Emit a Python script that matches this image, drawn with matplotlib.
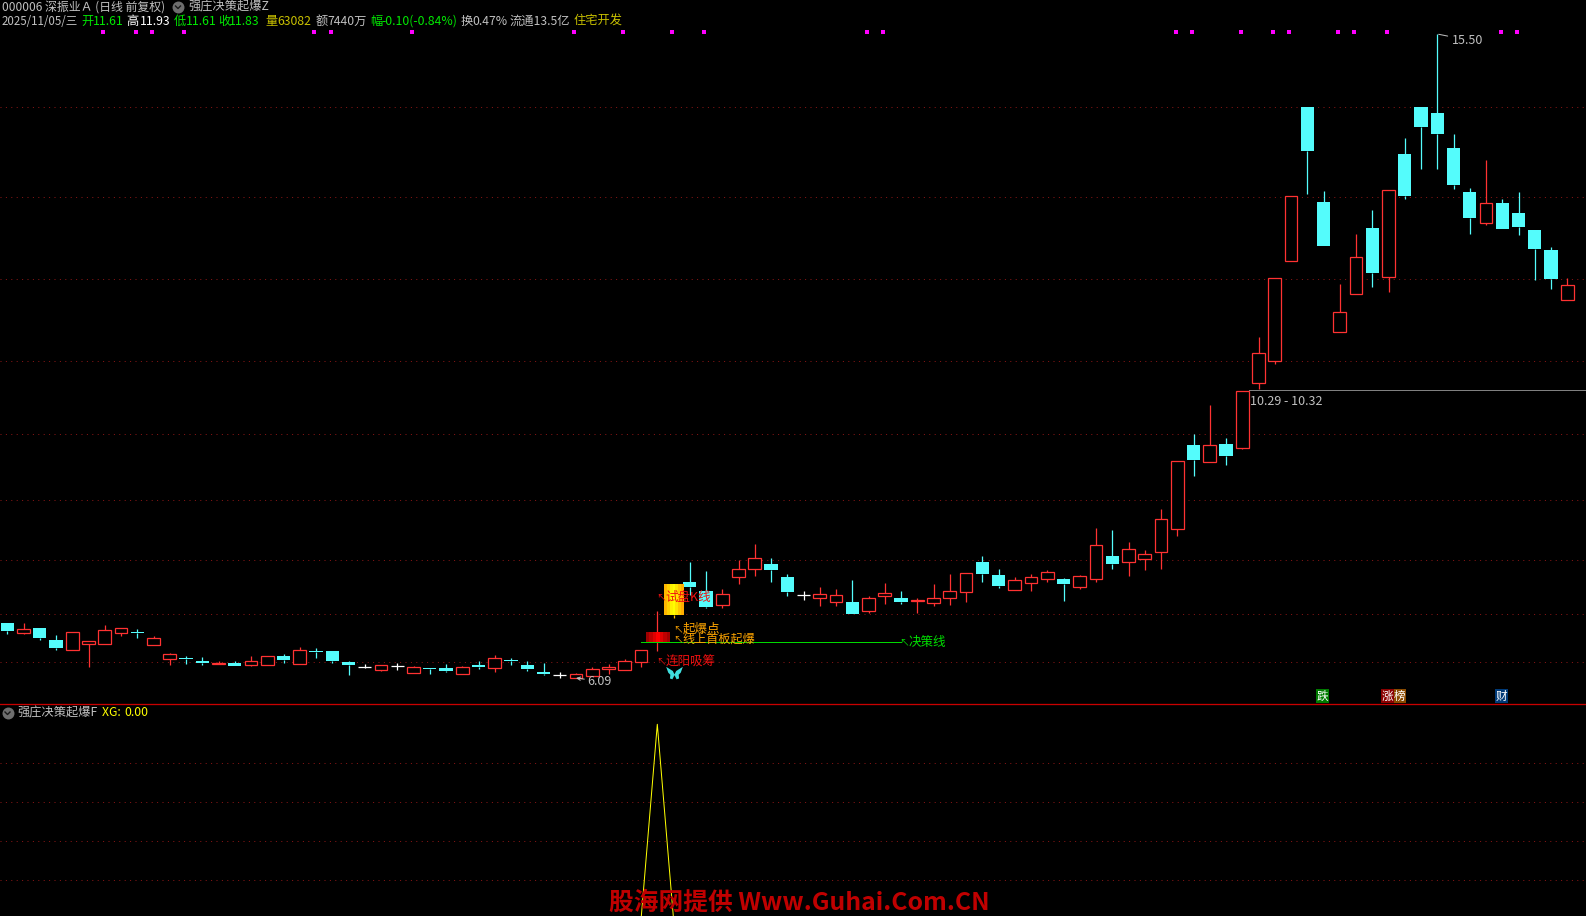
import numpy as np
import matplotlib
matplotlib.use('Agg')
import matplotlib.pyplot as plt

plt.rcParams['font.family'] = ['Noto Sans CJK SC', 'DejaVu Sans']

# дневные свечи
OPEN = [6.89, 6.75, 6.82, 6.65, 6.50, 6.59, 6.59, 6.75, 6.76, 6.57,
        6.37, 6.38, 6.34, 6.30, 6.31, 6.28, 6.28, 6.41, 6.30, 6.49,
        6.49, 6.32, 6.25, 6.21, 6.27, 6.16, 6.24, 6.24, 6.15, 6.28,
        6.24, 6.35, 6.28, 6.18, 6.13, 6.09, 6.12, 6.22, 6.21, 6.32,
        6.62, 7.01, 7.49, 7.36, 7.16, 7.57, 7.68, 7.76, 7.57, 7.30,
        7.26, 7.20, 7.20, 7.07, 7.29, 7.26, 7.22, 7.19, 7.26, 7.35,
        7.79, 7.60, 7.38, 7.48, 7.54, 7.54, 7.42, 7.54, 7.87, 7.79,
        7.83, 7.93, 8.27, 9.50, 9.25, 9.51, 9.45, 10.40, 10.72, 12.18,
        14.43, 13.05, 11.15, 11.70, 12.67, 11.95, 13.75, 14.43, 14.35, 13.83,
        13.19, 12.74, 13.03, 12.88, 12.64, 12.35, 11.61]
HIGH = [6.89, 6.89, 6.82, 6.72, 6.76, 6.63, 6.86, 6.82, 6.81, 6.70,
        6.46, 6.41, 6.40, 6.34, 6.34, 6.41, 6.41, 6.44, 6.54, 6.53,
        6.49, 6.34, 6.30, 6.28, 6.31, 6.26, 6.24, 6.30, 6.27, 6.34,
        6.43, 6.38, 6.34, 6.31, 6.18, 6.16, 6.25, 6.30, 6.37, 6.50,
        7.07, 7.45, 7.79, 7.65, 7.39, 7.81, 8.05, 7.84, 7.61, 7.36,
        7.42, 7.39, 7.52, 7.29, 7.48, 7.36, 7.26, 7.46, 7.61, 7.62,
        7.87, 7.68, 7.57, 7.61, 7.67, 7.55, 7.60, 8.28, 8.25, 8.08,
        7.96, 8.56, 9.26, 9.66, 10.08, 9.60, 10.29, 11.07, 11.93, 13.13,
        14.43, 13.21, 11.85, 12.58, 12.93, 13.22, 13.98, 14.43, 15.50, 14.04,
        13.25, 13.66, 13.09, 13.19, 12.64, 12.39, 11.93]
LOW = [6.73, 6.73, 6.65, 6.50, 6.50, 6.25, 6.59, 6.70, 6.67, 6.57,
       6.28, 6.30, 6.28, 6.30, 6.27, 6.27, 6.28, 6.31, 6.30, 6.38,
       6.31, 6.13, 6.24, 6.19, 6.21, 6.16, 6.15, 6.18, 6.15, 6.22,
       6.18, 6.28, 6.19, 6.13, 6.09, 6.09, 6.12, 6.15, 6.21, 6.25,
       6.49, 6.97, 7.30, 7.11, 7.11, 7.46, 7.58, 7.49, 7.29, 7.23,
       7.14, 7.14, 7.03, 7.04, 7.17, 7.17, 7.04, 7.14, 7.16, 7.20,
       7.49, 7.41, 7.38, 7.36, 7.49, 7.22, 7.39, 7.49, 7.68, 7.58,
       7.67, 7.68, 8.17, 9.04, 9.25, 9.20, 9.44, 10.32, 10.68, 12.18,
       13.16, 12.40, 11.15, 11.70, 11.80, 11.73, 13.09, 13.53, 13.53, 13.24,
       12.58, 12.71, 12.65, 12.56, 11.91, 11.77, 11.61]
CLOSE = [6.78, 6.81, 6.67, 6.53, 6.76, 6.63, 6.79, 6.82, 6.75, 6.67,
         6.44, 6.37, 6.31, 6.31, 6.27, 6.34, 6.41, 6.35, 6.50, 6.47,
         6.34, 6.28, 6.25, 6.28, 6.27, 6.25, 6.22, 6.19, 6.25, 6.25,
         6.38, 6.34, 6.22, 6.15, 6.13, 6.15, 6.22, 6.25, 6.34, 6.50,
         6.76, 7.45, 7.42, 7.13, 7.32, 7.68, 7.84, 7.67, 7.35, 7.30,
         7.32, 7.30, 7.03, 7.26, 7.33, 7.20, 7.23, 7.26, 7.36, 7.62,
         7.61, 7.43, 7.52, 7.57, 7.64, 7.46, 7.58, 8.03, 7.76, 7.97,
         7.90, 8.41, 9.26, 9.28, 9.50, 9.33, 10.29, 10.84, 11.93, 13.13,
         13.79, 12.40, 11.44, 12.24, 12.01, 13.22, 13.13, 14.14, 14.04, 13.29,
         12.81, 13.03, 12.65, 12.68, 12.36, 11.92, 11.83]

GRID_PRICES = [14.43, 13.12, 11.92, 10.72, 9.66, 8.69, 7.81, 7.03, 6.32]
XG_GRID = [0.2, 0.4, 0.6, 0.8]
XG_VALUES = [0] * 40 + [1] + [0] * 56

SIGNAL_DAYS = [6, 8, 9, 11, 19, 20, 25, 35, 38, 41, 43, 53, 54,
               72, 73, 76, 78, 79, 82, 83, 85, 92, 93]
SIGNAL_PRICE = 15.525
BOOM_DAY = 40
TEST_DAY = 41
DECISION_PRICE = 6.61
DECISION_START, DECISION_END = 39, 55
BUTTERFLY_PRICE = 6.16
RANGE_DAY = 76
RANGE_PRICE = 10.30
RANGE_LABEL = '10.29 - 10.32'

RED = '#ff3232'
CYAN = '#54fcfc'
GRID = '#8a1616'
GREY = '#c0c0c0'
GREEN = '#00e800'
GOLD = '#c8c000'
ORANGE = '#ffa500'
PX = 0.72  # один пиксель в пунктах

fig = plt.figure(figsize=(15.86, 9.16), dpi=100, facecolor='black')
W, H = 1586, 916
SPLIT = 704

ax = fig.add_axes([0, (H - SPLIT) / H, 1, SPLIT / H])
ax2 = fig.add_axes([0, 0, 1, (H - SPLIT) / H])
ov = fig.add_axes([0, 0, 1, 1], zorder=10)

XLIM = (-0.449, 97.15)
ax.set_xlim(*XLIM)
ax.set_ylim(5.711, 15.997)
ax2.set_xlim(*XLIM)
ax2.set_ylim(0.017, 1.104)
ov.set_xlim(0, W)
ov.set_ylim(H, 0)
ov.patch.set_alpha(0)
ov.axis('off')

for a in (ax, ax2):
    a.set_facecolor('black')
    a.set_xticks([])
    a.set_yticks([])
    for s in a.spines.values():
        s.set_visible(False)
ax2.spines['top'].set_visible(True)
ax2.spines['top'].set_color('#c80000')
ax2.spines['top'].set_linewidth(PX * 1.3)

for price in GRID_PRICES:
    ax.axhline(price, color=GRID, lw=PX, ls=(0, (1, 4.4)), dash_capstyle='butt', zorder=1)
for v in XG_GRID:
    ax2.axhline(v, color=GRID, lw=PX, ls=(0, (1, 4.4)), dash_capstyle='butt', zorder=1)

# свечи
BODY = 0.78
for i in range(len(OPEN)):
    o, h, l, c = OPEN[i], HIGH[i], LOW[i], CLOSE[i]
    top, bot = max(o, c), min(o, c)
    if i == BOOM_DAY:
        color = RED
    elif i == TEST_DAY:
        color = '#ffc000'
    elif c == o:
        color = 'white'
    elif c > o:
        color = RED
    else:
        color = CYAN
    ax.vlines(i, top, h, color=color, lw=PX * 1.25, zorder=3)
    ax.vlines(i, l, bot, color=color, lw=PX * 1.25, zorder=3)
    if i in (BOOM_DAY, TEST_DAY):
        continue
    if c == o:
        ax.hlines(c, i - BODY / 2, i + BODY / 2, color=color, lw=PX * 1.25, zorder=3)
    elif c > o:
        ax.bar(i, top - bot, bottom=bot, width=BODY, facecolor='black', edgecolor=RED,
               linewidth=PX * 1.25, zorder=3)
    else:
        ax.bar(i, top - bot, bottom=bot, width=BODY + 0.04, facecolor=CYAN, edgecolor=CYAN,
               linewidth=0, zorder=3, antialiased=False)

# блоки с градиентом
red_grad = np.array([[[0.62, 0, 0], [0.75, 0, 0], [0.88, 0, 0], [1, 0, 0], [0.88, 0, 0], [0.75, 0, 0], [0.65, 0, 0]]])
gold_grad = np.array([[[1, 0.72, 0], [1, 0.82, 0], [1, 0.95, 0], [1, 1, 0], [1, 0.9, 0], [1, 0.78, 0], [1, 0.68, 0]]])
ax.imshow(red_grad, extent=(BOOM_DAY - 0.71, BOOM_DAY + 0.71, OPEN[BOOM_DAY], CLOSE[BOOM_DAY]),
          aspect='auto', interpolation='nearest', zorder=4)
ax.imshow(gold_grad, extent=(TEST_DAY - 0.59, TEST_DAY + 0.59, OPEN[TEST_DAY], CLOSE[TEST_DAY]),
          aspect='auto', interpolation='nearest', zorder=4)
ax.set_xlim(*XLIM)
ax.set_ylim(5.711, 15.997)

# сигналы сверху
ax.plot(np.array(SIGNAL_DAYS) - 0.1, [SIGNAL_PRICE] * len(SIGNAL_DAYS), ls='none', marker='s',
        ms=2.6, color='#ff00ff', mew=0, zorder=5)

# линия решения
ax.hlines(DECISION_PRICE, DECISION_START, DECISION_END, color='#00d800', lw=PX, zorder=5, antialiased=False)

# бабочка
wings = [(0, -0.1), (-0.2, 0.3), (-1, 0.8), (-0.75, 0.1), (-0.5, -0.15), (-0.55, -0.6), (-0.25, -0.7), (0, -0.2),
         (0.25, -0.7), (0.55, -0.6), (0.5, -0.15), (0.75, 0.1), (1, 0.8), (0.2, 0.3), (0, -0.1)]
ax.plot([TEST_DAY], [BUTTERFLY_PRICE], ls='none', marker=wings, ms=12, color='#3fdede', mew=0, zorder=6)


def note(text, day, price, dx, dy, color, fs=9.0):
    ax.annotate('↖', xy=(day, price), xytext=(dx - 9, dy), textcoords='offset pixels', fontsize=7,
                color=color, va='center', ha='left', zorder=7)
    ax.annotate(text, xy=(day, price), xytext=(dx, dy), textcoords='offset pixels', fontsize=fs,
                color=color, va='center', ha='left', zorder=8)


note('试盘K线', TEST_DAY, 7.23, -8, 3, '#f01010')
note('起爆点', BOOM_DAY, CLOSE[BOOM_DAY], 25, 3, ORANGE)
note('线上首板起爆', BOOM_DAY, CLOSE[BOOM_DAY], 25, -7, ORANGE, fs=8.7)
note('决策线', DECISION_END, DECISION_PRICE, 7, 0, '#00e000')
note('连阳吸筹', BOOM_DAY, LOW[BOOM_DAY], 8, -11, '#f01010')

ax.annotate('6.09', xy=(35, 6.09), xytext=(11, -3), textcoords='offset pixels', fontsize=9, color=GREY,
            va='center', ha='left', zorder=7,
            arrowprops=dict(arrowstyle='->', color=GREY, lw=PX, shrinkA=0, shrinkB=0, mutation_scale=6))
ax.annotate('15.50', xy=(88, 15.50), xytext=(14.5, -6), textcoords='offset pixels', fontsize=9, color=GREY,
            va='center', ha='left', zorder=7,
            arrowprops=dict(arrowstyle='-', color=GREY, lw=PX, shrinkA=1, shrinkB=1))

ax.plot([RANGE_DAY + BODY / 2, XLIM[1]], [RANGE_PRICE, RANGE_PRICE], color='#808080', lw=PX,
        zorder=2, antialiased=False)
ax.annotate(RANGE_LABEL, xy=(RANGE_DAY, RANGE_PRICE), xytext=(8, -12), textcoords='offset pixels',
            fontsize=9, color=GREY, va='center', ha='left', zorder=7)

# нижняя панель
ax2.plot(range(len(XG_VALUES)), XG_VALUES, color='#ffff00', lw=PX, zorder=3)

# шапка
HEAD_FS = 8.8


def label(x, y, text, color=GREY, fs=HEAD_FS, **kw):
    ov.text(x, y, text, color=color, fontsize=fs, va='center', ha='left', **kw)


label(2, 7.5, '000006 深振业Ａ (日线 前复权)', fs=8.6)
label(188, 7.5, '强庄决策起爆Z')
header = [(2, '2025/11/05/三', GREY), (81, '开', GREEN), (93, '11.61', GREEN), (126.5, '高', 'white'),
          (139.6, '11.93', 'white'), (173.5, '低', GREEN), (186, '11.61', GREEN), (218, '收', GREEN),
          (228.6, '11.83', GREEN), (265, '量', GOLD), (277.5, '63082', GOLD), (315.5, '额', GREY),
          (327.8, '7440万', GREY), (370, '幅', GREEN), (381.6, '-0.10(-0.84%)', GREEN), (460.4, '换', GREY),
          (472.6, '0.47%', GREY), (510, '流通13.5亿', GREY), (573.5, '住宅开发', GOLD)]
for x, text, color in header:
    label(x, 21.5, text, color, fs=8.3 if x == 2 else HEAD_FS)

label(17, 713, '强庄决策起爆F')
label(101.7, 713, 'XG: ', '#ffff00')
label(124, 713, '0.00', '#ffff00')

# значки с шевроном
for x, y in [(178, 7), (7.5, 713)]:
    ov.plot([x], [y], marker='o', ms=8.6, color='#6e6e6e', mew=0)
    ov.plot([x - 2.5, x, x + 2.5], [y - 1, y + 1.5, y - 1], color='#1a1a1a', lw=1)

# метки у разделителя
tags = [(1316, '跌', '#007a00'), (1381.3, '涨', '#8a0000'), (1393.5, '榜', '#8a4a00'), (1495, '财', '#003a78')]
for x, text, color in tags:
    ov.text(x + 6.5, 696.4, text, color='white', fontsize=8.4, va='center', ha='center',
            bbox=dict(boxstyle='square,pad=0.05', facecolor=color, edgecolor='none'))

ov.text(799, 903, '股海网提供 Www.Guhai.Com.CN', color='#c00000', fontsize=17.8, fontweight='bold',
        va='center', ha='center')

fig.savefig('out.png', dpi=100, facecolor='black')
